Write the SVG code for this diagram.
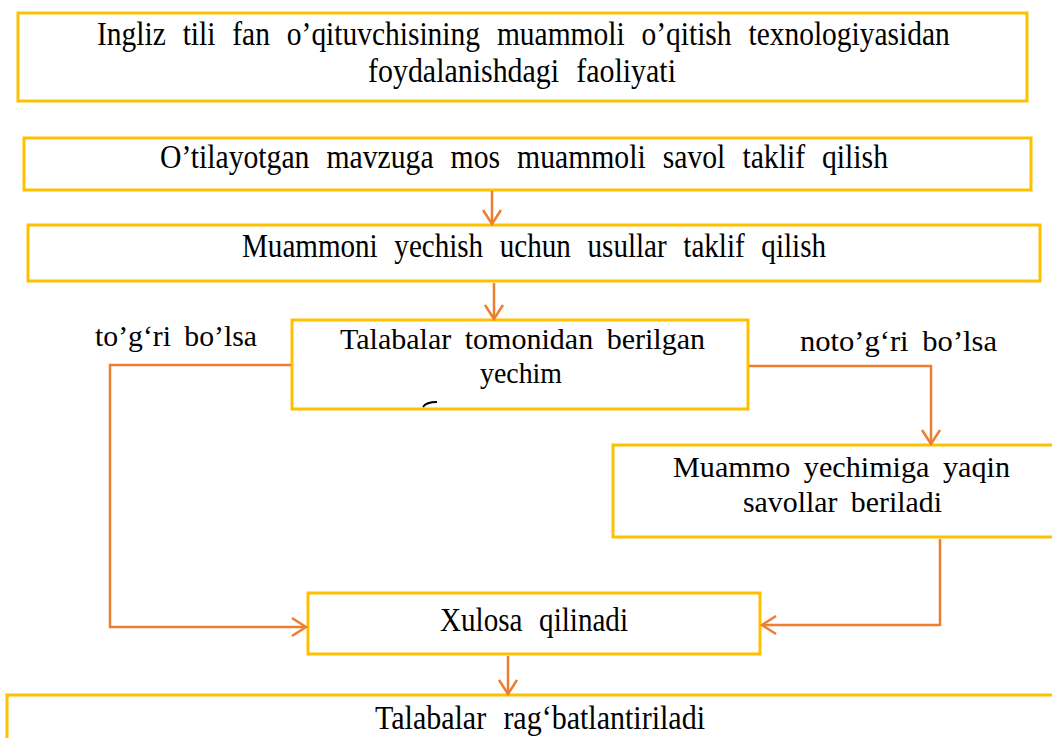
<svg xmlns="http://www.w3.org/2000/svg" width="1052" height="738" viewBox="0 0 1052 738">
<defs>
<style>
.box{fill:#fff;stroke:#FFC000;stroke-width:3}
.t{font-family:'Liberation Serif','Times New Roman',serif;fill:#000}
.c{word-spacing:11px}
.n{word-spacing:6px}
.ln{fill:none;stroke:#ED7D31;stroke-width:2.5}
</style>
<marker id="ah" markerUnits="userSpaceOnUse" markerWidth="20" markerHeight="22" refX="15" refY="10" orient="auto" viewBox="0 0 20 20">
<path d="M1,1 L15,10 L1,19" fill="none" stroke="#ED7D31" stroke-width="2.5"/>
</marker>
</defs>
<rect width="1052" height="738" fill="#fff"/>
<g id="node1">
<rect class="box" x="18" y="13" width="1009" height="88"/>
<text class="t c" font-size="34" transform="translate(97,45) scale(0.8,1)" x="0" y="0" textLength="1066" lengthAdjust="spacingAndGlyphs">Ingliz tili fan o’qituvchisining muammoli o’qitish texnologiyasidan</text>
<text class="t c" font-size="34" x="368" y="82" textLength="308" lengthAdjust="spacingAndGlyphs">foydalanishdagi faoliyati</text>
</g>
<g id="node2">
<rect class="box" x="24" y="138" width="1007" height="52"/>
<text class="t c" font-size="34" x="160" y="168" textLength="728" lengthAdjust="spacingAndGlyphs">O’tilayotgan mavzuga mos muammoli savol taklif qilish</text>
</g>
<g id="node3">
<rect class="box" x="28" y="225" width="1012" height="56"/>
<text class="t c" font-size="34" x="242" y="257" textLength="584" lengthAdjust="spacingAndGlyphs">Muammoni yechish uchun usullar taklif qilish</text>
</g>
<g id="node4">
<rect class="box" x="292" y="320" width="456" height="89"/>
<text class="t n" font-size="30" x="340" y="349" textLength="365" lengthAdjust="spacingAndGlyphs">Talabalar tomonidan berilgan</text>
<text class="t n" font-size="30" x="480" y="383" textLength="82" lengthAdjust="spacingAndGlyphs">yechim</text>
<path d="M423,407 Q426,402 437,402" fill="none" stroke="#000" stroke-width="1.8"/>
</g>
<g id="node6">
<rect class="box" x="613" y="445" width="445" height="92"/>
<text class="t n" font-size="30" x="673" y="477" textLength="337" lengthAdjust="spacingAndGlyphs">Muammo yechimiga yaqin</text>
<text class="t n" font-size="30" x="743" y="512" textLength="199" lengthAdjust="spacingAndGlyphs">savollar beriladi</text>
</g>
<g id="node5">
<rect class="box" x="308" y="593" width="452" height="61"/>
<text class="t c" font-size="34" x="440" y="631" textLength="188" lengthAdjust="spacingAndGlyphs">Xulosa qilinadi</text>
</g>
<g id="node7">
<rect class="box" x="7" y="695" width="1060" height="60"/>
<text class="t c" font-size="34" x="375" y="729" textLength="330" lengthAdjust="spacingAndGlyphs">Talabalar rag‘batlantiriladi</text>
</g>
<g id="labels">
<text class="t n" font-size="30" x="95" y="346" textLength="162" lengthAdjust="spacingAndGlyphs">to’g‘ri bo’lsa</text>
<text class="t n" font-size="30" x="800" y="351" textLength="197" lengthAdjust="spacingAndGlyphs">noto’g‘ri bo’lsa</text>
</g>
<g id="connectors">
<path class="ln" d="M492,191 L492,224" marker-end="url(#ah)"/>
<path class="ln" d="M494,283 L494,319" marker-end="url(#ah)"/>
<path class="ln" d="M291,365 L110,365 L110,627 L306,627" marker-end="url(#ah)"/>
<path class="ln" d="M749,366 L931,366 L931,444" marker-end="url(#ah)"/>
<path class="ln" d="M940,539 L940,625 L762,625" marker-end="url(#ah)"/>
<path class="ln" d="M508,656 L508,694" marker-end="url(#ah)"/>
</g>
</svg>
